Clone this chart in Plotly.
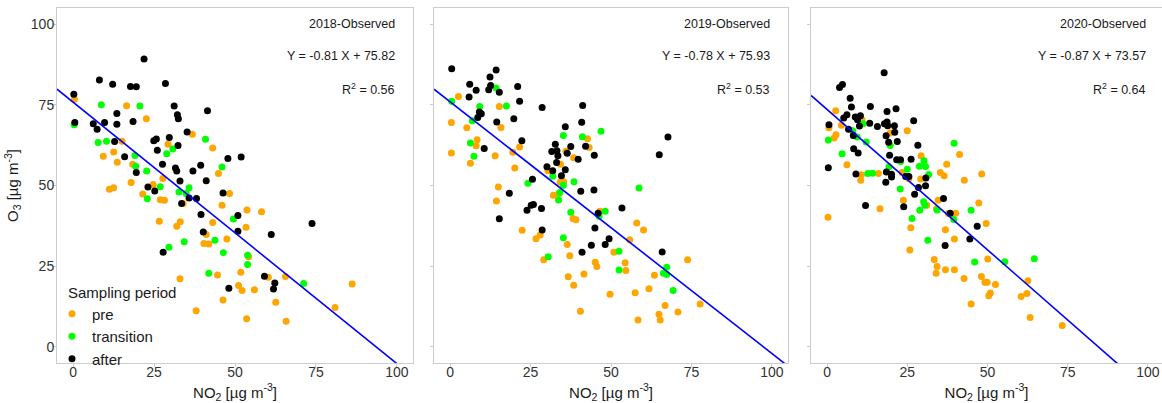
import plotly.graph_objects as go

FONT = "Arial, 'Liberation Sans', sans-serif"

# ---------------- data ----------------
years = ["2018", "2019", "2020"]
periods = ["pre", "transition", "after"]
period_colors = ["#FFA500", "#00FF00", "#000000"]

slopes = [-0.81, -0.78, -0.87]
intercepts = [75.82, 75.93, 73.57]
r_squared = [0.56, 0.53, 0.64]

tick_values = [0, 25, 50, 75, 100]
axis_limits = [-5, 105]

no2_2018_pre = [0.4, 16.5, 22.6, 9.3, 12.5, 13.6, 15.1, 18.4, 17.9, 11.2, 12.5, 21.5, 24.7, 27.7, 26.9, 28.2, 29.3, 26.6, 32.0, 33.1, 34.0, 33.0, 36.8, 43.1, 44.9, 48.3, 46.0, 43.1, 41.1, 40.4, 41.9, 47.5, 53.7, 58.2, 53.4, 54.2, 44.6, 51.8, 51.1, 52.2, 56.0, 46.3, 38.0, 53.6, 62.6, 65.8, 65.6, 60.3, 80.9, 86.2]
o3_2018_pre = [76.7, 74.7, 70.7, 59.1, 60.4, 57.2, 63.7, 56.6, 50.9, 48.8, 49.3, 47.4, 50.3, 52.2, 45.6, 45.4, 62.8, 38.9, 37.4, 38.8, 44.4, 21.1, 65.9, 61.6, 53.7, 47.5, 43.9, 38.5, 34.8, 32.0, 31.9, 33.4, 42.4, 41.9, 37.1, 27.9, 22.3, 23.1, 19.0, 17.5, 17.7, 14.5, 11.2, 8.7, 13.8, 7.9, 21.8, 21.6, 12.2, 19.5]
no2_2018_transition = [0.3, 8.7, 20.6, 7.7, 10.3, 19.1, 19.3, 22.7, 22.9, 26.9, 28.9, 30.8, 32.7, 35.8, 34.9, 40.9, 46.0, 29.6, 34.3, 43.8, 49.5, 46.4, 53.9, 53.9, 41.9, 71.2]
o3_2018_transition = [68.8, 75.0, 74.6, 63.3, 63.7, 59.3, 56.0, 54.5, 45.9, 49.6, 59.8, 61.3, 48.0, 49.3, 47.5, 64.3, 55.7, 30.9, 32.6, 33.0, 39.6, 29.2, 28.4, 25.5, 22.8, 19.6]
no2_2018_after = [0.2, 0.5, 8.1, 12.2, 17.7, 19.5, 21.9, 28.5, 6.2, 7.4, 9.7, 13.5, 13.5, 12.8, 15.9, 18.5, 19.5, 23.1, 25.2, 24.9, 25.7, 26.0, 27.6, 29.7, 31.2, 32.2, 32.5, 32.4, 31.6, 32.0, 33.0, 33.5, 35.2, 37.0, 35.8, 38.1, 39.4, 41.5, 41.1, 39.5, 40.2, 27.8, 46.3, 47.8, 51.9, 50.9, 50.9, 48.1, 61.2, 59.1, 62.3, 61.9, 73.8]
o3_2018_after = [78.3, 69.5, 82.7, 81.4, 80.7, 80.6, 89.2, 81.6, 69.1, 67.4, 69.5, 72.3, 69.0, 63.6, 58.9, 69.8, 54.0, 49.5, 48.3, 63.9, 64.4, 60.9, 56.6, 64.9, 74.6, 71.9, 70.7, 62.4, 55.4, 54.5, 51.4, 44.4, 66.6, 54.5, 46.1, 46.0, 56.3, 73.2, 51.5, 41.0, 35.6, 29.3, 47.7, 58.4, 58.8, 40.7, 35.8, 18.2, 34.8, 21.9, 19.8, 17.9, 38.2]

no2_2019_pre = [2.6, 0.4, 0.4, 5.2, 15.3, 15.8, 8.4, 8.1, 6.3, 14.0, 21.6, 19.5, 20.1, 15.0, 14.4, 22.4, 26.7, 28.0, 29.1, 30.4, 32.1, 34.3, 34.2, 35.3, 36.0, 38.4, 42.7, 43.2, 33.7, 38.2, 39.1, 36.4, 37.2, 36.7, 38.4, 40.5, 41.6, 45.1, 45.6, 46.6, 49.7, 50.9, 54.4, 54.6, 55.8, 58.0, 60.1, 57.5, 58.4, 61.8, 63.5, 66.8, 64.9, 65.3, 70.8, 73.8, 77.7]
o3_2019_pre = [77.6, 69.5, 60.1, 67.9, 74.5, 68.0, 64.2, 62.3, 56.9, 59.2, 61.9, 60.3, 55.4, 49.5, 45.2, 36.1, 33.5, 34.7, 27.0, 54.6, 47.0, 56.6, 51.0, 51.2, 60.6, 58.6, 64.5, 61.8, 47.4, 39.8, 39.4, 31.7, 28.2, 21.7, 19.1, 11.0, 22.6, 26.2, 24.9, 42.0, 16.3, 29.3, 26.1, 23.7, 33.2, 38.4, 36.2, 16.8, 8.3, 18.0, 22.2, 12.8, 10.1, 8.3, 10.8, 27.0, 13.3]
no2_2019_transition = [0.5, 14.3, 9.2, 17.5, 6.9, 6.3, 7.4, 35.2, 41.1, 46.9, 31.9, 35.2, 38.5, 24.2, 34.1, 33.7, 37.5, 46.3, 48.2, 58.7, 35.2, 30.5, 52.5, 52.5, 67.3, 66.3, 67.3, 69.3]
o3_2019_transition = [76.1, 80.2, 74.5, 74.6, 70.1, 63.2, 59.1, 65.5, 65.1, 66.8, 52.9, 50.1, 51.2, 50.7, 47.8, 45.5, 41.7, 40.5, 42.0, 49.2, 33.8, 27.9, 29.6, 23.8, 24.7, 22.8, 22.4, 17.5]
no2_2019_after = [0.5, 6.1, 5.9, 8.1, 12.4, 14.3, 12.0, 12.6, 15.3, 9.1, 8.6, 9.7, 14.5, 19.8, 21.0, 21.6, 28.6, 22.3, 10.6, 18.4, 15.3, 25.6, 23.9, 25.2, 25.9, 28.4, 28.6, 30.1, 31.6, 32.7, 33.2, 33.5, 33.1, 31.9, 34.6, 35.8, 35.8, 36.4, 37.5, 39.8, 40.9, 41.2, 42.1, 44.8, 40.6, 44.7, 46.0, 45.0, 49.4, 48.2, 43.9, 41.0, 53.4, 65.0, 67.7, 65.9]
o3_2019_after = [86.2, 81.4, 77.4, 79.5, 83.6, 85.8, 79.7, 81.0, 78.9, 72.8, 71.1, 72.2, 69.7, 70.7, 80.7, 76.1, 74.2, 63.9, 61.5, 47.6, 39.7, 51.9, 42.3, 43.9, 44.1, 42.9, 36.2, 55.8, 60.5, 62.8, 60.8, 59.2, 57.1, 54.6, 53.0, 54.9, 68.2, 60.0, 62.1, 58.1, 69.6, 74.8, 62.2, 59.4, 48.2, 48.6, 41.4, 36.8, 33.5, 31.7, 31.5, 29.3, 43.0, 59.5, 65.0, 29.4]

no2_2020_pre = [0.6, 0.3, 2.7, 2.8, 2.2, 4.5, 6.2, 10.9, 10.7, 10.5, 16.0, 16.5, 19.6, 25.0, 23.4, 25.5, 23.8, 26.1, 25.8, 29.3, 29.2, 31.1, 34.6, 34.1, 37.8, 40.1, 36.9, 39.7, 37.3, 35.3, 36.5, 41.3, 42.8, 48.2, 47.3, 49.6, 33.4, 34.3, 34.0, 36.9, 39.7, 42.7, 44.9, 48.1, 49.2, 49.9, 52.5, 50.1, 50.4, 50.9, 60.5, 62.3, 62.6, 63.3, 73.3]
o3_2020_pre = [67.9, 40.2, 73.2, 65.7, 64.7, 68.7, 56.4, 70.4, 53.3, 51.6, 53.7, 42.8, 66.3, 67.0, 54.0, 52.1, 45.4, 36.9, 30.0, 59.2, 52.0, 43.9, 45.4, 42.8, 41.3, 41.4, 36.3, 33.4, 56.6, 54.0, 53.0, 59.6, 51.6, 53.6, 44.6, 38.2, 27.1, 24.9, 22.8, 23.9, 23.9, 21.2, 13.3, 21.8, 20.0, 20.0, 19.3, 27.2, 15.8, 16.7, 15.6, 16.5, 20.5, 9.1, 6.6]
no2_2020_transition = [0.4, 4.7, 8.0, 11.2, 9.4, 12.2, 12.7, 14.2, 19.7, 19.3, 22.9, 25.0, 22.8, 26.5, 28.8, 30.2, 30.7, 31.7, 30.1, 30.5, 28.9, 34.3, 39.5, 39.6, 44.9, 31.4, 46.0, 55.4, 64.6]
o3_2020_transition = [64.1, 59.8, 67.0, 69.1, 65.0, 63.5, 53.7, 53.8, 62.4, 55.8, 57.4, 55.0, 48.9, 39.8, 56.0, 57.7, 55.9, 53.4, 45.0, 43.9, 42.3, 42.4, 39.5, 63.1, 42.3, 33.0, 26.3, 26.4, 27.3]
no2_2020_after = [0.6, 0.4, 3.9, 4.8, 7.2, 7.6, 5.2, 6.2, 6.7, 8.2, 8.8, 9.5, 10.4, 10.1, 13.5, 13.3, 15.7, 8.3, 9.7, 9.0, 12.0, 17.8, 18.7, 21.5, 17.9, 18.7, 18.9, 21.0, 21.1, 18.4, 19.2, 21.9, 19.5, 21.7, 22.9, 27.0, 28.3, 26.2, 18.5, 18.3, 20.1, 20.1, 24.5, 25.5, 28.5, 27.3, 23.9, 30.8, 30.7, 36.3, 38.4, 36.8, 46.8, 44.5]
o3_2020_after = [68.8, 55.5, 80.4, 81.3, 77.0, 74.3, 70.9, 71.9, 67.4, 65.5, 71.2, 70.4, 71.6, 68.4, 74.5, 69.3, 68.3, 61.4, 60.1, 53.6, 43.8, 84.9, 72.9, 73.8, 69.1, 69.7, 68.5, 68.5, 66.5, 65.4, 63.4, 63.6, 59.4, 58.0, 58.0, 70.1, 62.5, 58.1, 54.2, 51.0, 52.6, 53.5, 52.8, 52.8, 49.4, 47.3, 43.4, 52.3, 49.9, 46.0, 41.4, 31.4, 37.4, 33.4]

panel_data = {
    "2018": [(no2_2018_pre, o3_2018_pre), (no2_2018_transition, o3_2018_transition), (no2_2018_after, o3_2018_after)],
    "2019": [(no2_2019_pre, o3_2019_pre), (no2_2019_transition, o3_2019_transition), (no2_2019_after, o3_2019_after)],
    "2020": [(no2_2020_pre, o3_2020_pre), (no2_2020_transition, o3_2020_transition), (no2_2020_after, o3_2020_after)],
}

# ---------------- layout geometry ----------------
W, H = 1162, 403
x_domains_px = [(57, 413), (434, 788), (811, 1162)]
x_ranges = [[-5, 105], [-5, 105], [-5, 104.4]]
y_domain = [1 - 363 / H, 1 - 8 / H]

fig = go.Figure()

for i, yr in enumerate(years):
    xa = "x" if i == 0 else f"x{i + 1}"
    ya = "y" if i == 0 else f"y{i + 1}"
    for j, per in enumerate(periods):
        xs, ys = panel_data[yr][j]
        fig.add_trace(go.Scatter(
            x=xs, y=ys, mode="markers", name=per, legendgroup=per,
            showlegend=(i == 0), xaxis=xa, yaxis=ya,
            marker=dict(color=period_colors[j], size=7, line=dict(width=0)),
        ))
    lx = axis_limits
    ly = [slopes[i] * v + intercepts[i] for v in lx]
    fig.add_trace(go.Scatter(
        x=lx, y=ly, mode="lines", showlegend=False, xaxis=xa, yaxis=ya,
        line=dict(color="#0000FF", width=1.6), hoverinfo="skip",
    ))

axis_common = dict(
    showgrid=False, zeroline=False, showline=True, mirror=True,
    linecolor="#CCCCCC", linewidth=1, ticks="outside", ticklen=3,
    tickcolor="#CCCCCC", tickvals=tick_values,
    tickfont=dict(family=FONT, size=14, color="#333333"),
    automargin=False,
)

layout = dict(
    width=W, height=H,
    margin=dict(l=0, r=0, t=0, b=0),
    paper_bgcolor="white", plot_bgcolor="white",
    font=dict(family=FONT, color="#1a1a1a"),
    showlegend=True,
    legend=dict(
        x=66 / W, y=1 - 278 / H, xanchor="left", yanchor="top",
        bgcolor="rgba(0,0,0,0)", font=dict(family=FONT, size=15, color="#1a1a1a"),
        title=dict(text="Sampling period", font=dict(family=FONT, size=15, color="#1a1a1a")),
        itemsizing="trace", tracegroupgap=0, indentation=-14,
    ),
)

annotations = []
for i, yr in enumerate(years):
    xkey = "xaxis" if i == 0 else f"xaxis{i + 1}"
    ykey = "yaxis" if i == 0 else f"yaxis{i + 1}"
    xa = "x" if i == 0 else f"x{i + 1}"
    ya = "y" if i == 0 else f"y{i + 1}"
    x0, x1 = x_domains_px[i]
    layout[xkey] = dict(
        axis_common, domain=[x0 / W, x1 / W], range=x_ranges[i], anchor=ya,
        ticklabelstandoff=-7,
        title=dict(text="NO<sub>2</sub> [µg m<sup>-3</sup>]", standoff=8,
                   font=dict(family=FONT, size=15, color="#1a1a1a")),
    )
    ydict = dict(axis_common, domain=y_domain, range=axis_limits, anchor=xa,
                 showticklabels=(i == 0), ticklabelstandoff=-4)
    if i == 0:
        ydict["title"] = dict(text="O<sub>3</sub> [µg m<sup>-3</sup>]", standoff=8,
                              font=dict(family=FONT, size=15, color="#1a1a1a"))
    layout[ykey] = ydict
    texts = [f"{yr}-Observed",
             f"Y = {slopes[i]:.2f} X + {intercepts[i]:.2f}",
             f"R<sup>2</sup> = {r_squared[i]:.2f}"]
    for t, yy in zip(texts, [100, 90, 80]):
        annotations.append(dict(
            x=100, y=yy, xref=xa, yref=ya, text=t, showarrow=False,
            xanchor="right", yanchor="middle",
            font=dict(family=FONT, size=12.5, color="#1a1a1a"),
        ))
layout["annotations"] = annotations

fig.update_layout(**layout)
fig.write_html("out.html")
